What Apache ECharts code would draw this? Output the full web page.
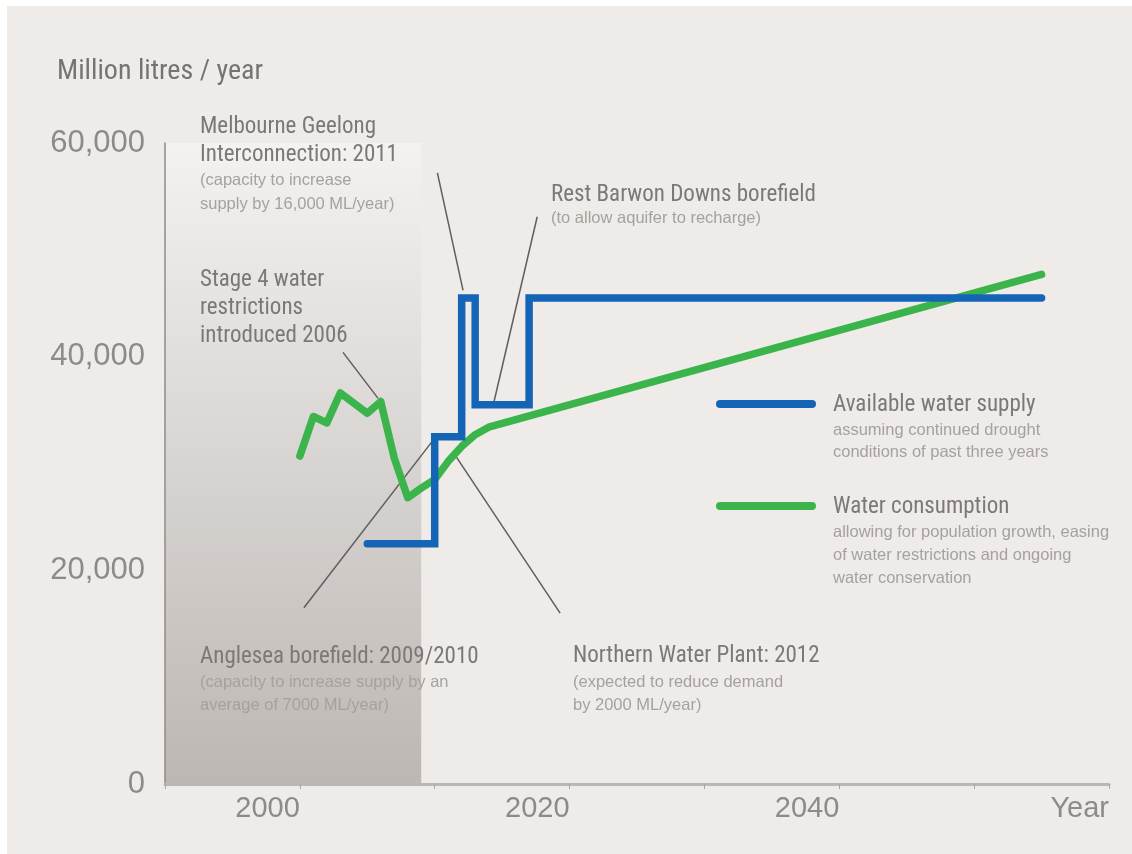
<!DOCTYPE html>
<html>
<head>
<meta charset="utf-8">
<script src="https://cdn.jsdelivr.net/npm/echarts@6/dist/echarts.min.js"></script>
<style>
  html, body { margin: 0; padding: 0; background: #fff; }
  #chart { width: 1132px; height: 854px; }
</style>
</head>
<body>
<div id="chart"></div>
<script>
// available water supply, step line: [year, million litres/year]
const supplyYears = [2005, 2010, 2012, 2013, 2017, 2055]
const supplyValues = [22500, 32500, 45500, 35500, 45500, 45500]

// water consumption (actual to ~2008, then projected)
const useYears = [2000, 2001, 2002, 2003, 2005, 2006, 2007, 2008, 2009, 2010, 2011, 2012, 2013, 2014, 2055]
const useValues = [30700, 34400, 33800, 36600, 34700, 35800, 30500, 26800, 27700, 28500, 30200, 31600, 32700, 33400, 47700]

// shaded history block
const historyStart = 1990
const historyEnd = 2009

// axis ticks
const xTicks = [1990, 2060, 10]
const yTicks = [0, 60000, 20000]

// leader lines for annotations: [year1, value1, year2, value2]
const leaderLines = [
  [2010.2, 57200, 2012.1, 46200], // Melbourne Geelong Interconnection
  [2017.6, 53100, 2014.4, 35800], // Rest Barwon Downs
  [2003.2, 40400, 2005.8, 36100], // Stage 4 restrictions
  [2000.3, 16500, 2010.2, 32700], // Anglesea borefield
  [2011.5, 30800, 2019.3, 16000]  // Northern Water Plant
]

const BLUE = '#1565b6'
const GREEN = '#3bb54b'
const BG = '#efebe8'
const TEXT = '#7b7877'
const SMALL = '#a5a19f'

const bigFont = "23px 'Liberation Sans Narrow', 'Roboto Condensed', sans-serif"
const smallFont = "16.5px 'Liberation Sans', Roboto, sans-serif"

function label(x, y, text, small) {
  return {
    type: 'text',
    x: x,
    y: y,
    z: 100,
    silent: true,
    style: {
      text: text,
      font: small ? smallFont : bigFont,
      fill: small ? SMALL : TEXT,
      verticalAlign: 'middle'
    }
  }
}

const chart = echarts.init(document.getElementById('chart'))

const option = {
  animation: false,
  backgroundColor: BG,
  grid: { left: 165, right: 23, top: 143, bottom: 70 },
  xAxis: {
    type: 'value',
    min: xTicks[0],
    max: xTicks[1],
    interval: xTicks[2],
    axisLine: { lineStyle: { color: '#bab6b3', width: 3 } },
    axisTick: { length: 5, lineStyle: { color: '#aaa6a3', width: 1 } },
    splitLine: { show: false },
    axisLabel: {
      align: 'right',
      margin: 10,
      fontSize: 29,
      fontFamily: "'Liberation Sans', Roboto, sans-serif",
      color: '#8d8a89',
      formatter: function (v) {
        if (v === 2060) return 'Year'
        if (v > 1990 && v % 20 === 0) return String(v)
        return ''
      }
    }
  },
  yAxis: {
    type: 'value',
    min: yTicks[0],
    max: yTicks[1],
    interval: yTicks[2],
    axisLine: { show: true, lineStyle: { color: '#8e8b89', width: 1.5 } },
    axisTick: { show: false },
    splitLine: { show: false },
    axisLabel: {
      margin: 20,
      fontSize: 31,
      fontFamily: "'Liberation Sans', Roboto, sans-serif",
      color: '#8d8a89'
    }
  },
  series: [
    {
      type: 'lines',
      coordinateSystem: 'cartesian2d',
      silent: true,
      z: 1,
      lineStyle: { color: '#605d5c', width: 1.5, opacity: 1 },
      data: leaderLines.map(function (l) {
        return { coords: [[l[0], l[1]], [l[2], l[3]]] }
      })
    },
    {
      name: 'Water consumption',
      type: 'line',
      z: 3,
      symbol: 'none',
      lineStyle: { color: GREEN, width: 7.5, cap: 'round', join: 'round' },
      data: useYears.map(function (y, i) { return [y, useValues[i]] }),
      markArea: {
        silent: true,
        z: 0,
        itemStyle: {
          color: new echarts.graphic.LinearGradient(0, 0, 0, 1, [
            { offset: 0, color: '#f4f1ef' },
            { offset: 1, color: '#bcb7b3' }
          ])
        },
        data: [[{ xAxis: historyStart, yAxis: yTicks[0] }, { xAxis: historyEnd, yAxis: yTicks[1] }]]
      }
    },
    {
      name: 'Available water supply',
      type: 'line',
      step: 'end',
      z: 4,
      symbol: 'none',
      lineStyle: { color: BLUE, width: 7.5, cap: 'round', join: 'miter' },
      data: supplyYears.map(function (y, i) { return [y, supplyValues[i]] })
    }
  ],
  graphic: [
    { type: 'rect', shape: { x: 0, y: 0, width: 7, height: 854 }, style: { fill: '#fff' }, silent: true },
    { type: 'rect', shape: { x: 0, y: 0, width: 1132, height: 6 }, style: { fill: '#fff' }, silent: true },
    {
      type: 'text', x: 57, y: 72, z: 100, silent: true,
      style: { text: 'Million litres / year', font: "28px 'Liberation Sans Narrow', 'Roboto Condensed', sans-serif", fill: '#767372', verticalAlign: 'middle' }
    },
    label(200, 127, 'Melbourne Geelong'),
    label(200, 155, 'Interconnection: 2011'),
    label(200, 180, '(capacity to increase', true),
    label(200, 204, 'supply by 16,000 ML/year)', true),
    label(200, 280, 'Stage 4 water'),
    label(200, 308, 'restrictions'),
    label(200, 336, 'introduced 2006'),
    label(551, 195, 'Rest Barwon Downs borefield'),
    label(551, 218, '(to allow aquifer to recharge)', true),
    label(200, 657, 'Anglesea borefield: 2009/2010'),
    label(200, 682, '(capacity to increase supply by an', true),
    label(200, 705, 'average of 7000 ML/year)', true),
    label(573, 656, 'Northern Water Plant: 2012'),
    label(573, 682, '(expected to reduce demand', true),
    label(573, 705, 'by 2000 ML/year)', true),
    {
      type: 'line', silent: true, z: 100,
      shape: { x1: 720, y1: 404, x2: 812, y2: 404 },
      style: { stroke: BLUE, lineWidth: 8, lineCap: 'round' }
    },
    label(833, 405, 'Available water supply'),
    label(833, 430, 'assuming continued drought', true),
    label(833, 452, 'conditions of past three years', true),
    {
      type: 'line', silent: true, z: 100,
      shape: { x1: 720, y1: 506, x2: 812, y2: 506 },
      style: { stroke: GREEN, lineWidth: 8, lineCap: 'round' }
    },
    label(833, 507, 'Water consumption'),
    label(833, 532, 'allowing for population growth, easing', true),
    label(833, 555, 'of water restrictions and ongoing', true),
    label(833, 578, 'water conservation', true)
  ]
}

chart.setOption(option)
</script>
</body>
</html>
